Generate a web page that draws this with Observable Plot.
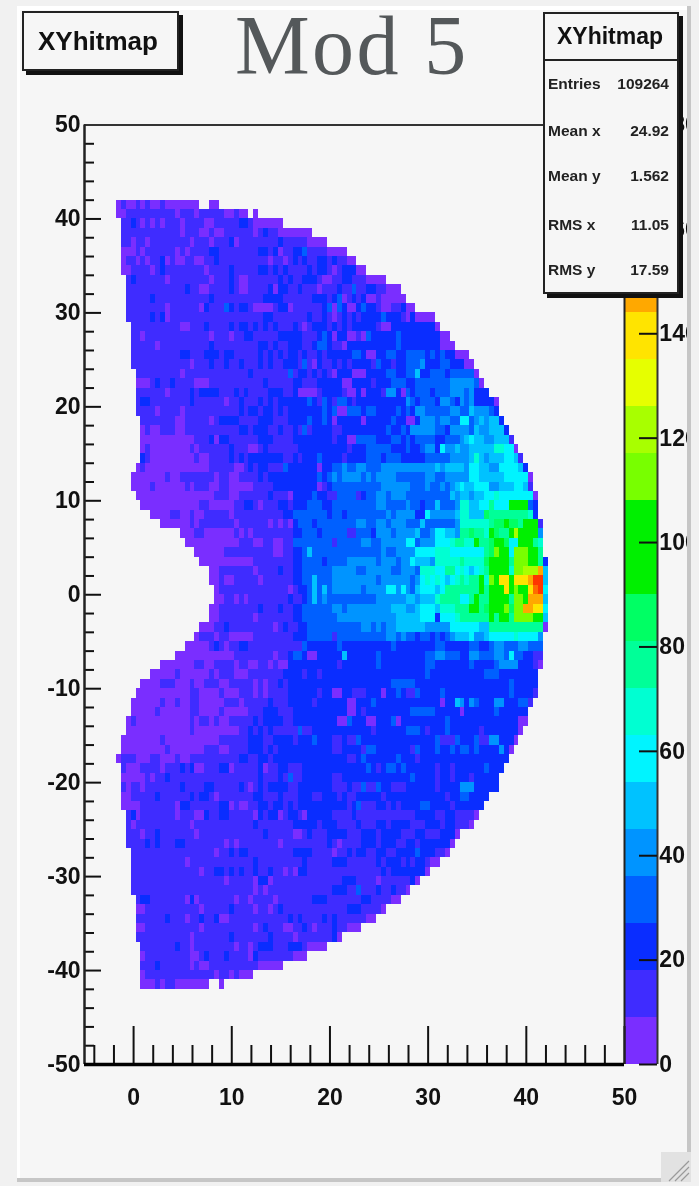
<!DOCTYPE html>
<html><head><meta charset="utf-8">
<script src="https://cdn.jsdelivr.net/npm/d3@7"></script>
<script src="https://cdn.jsdelivr.net/npm/@observablehq/plot@0.6"></script>
<style>
html,body{margin:0;padding:0;background:#f1f1f1;width:699px;height:1186px;overflow:hidden}
#panel{position:absolute;left:17px;top:6px;width:670px;height:1172px;background:#f6f6f6;border-left:3px solid #fff;border-top:4px solid #fff;box-sizing:border-box}
#chart{position:absolute;left:0;top:0}
#chart svg{filter:blur(.55px);background:transparent;display:block}
.mask{position:absolute}
.box{position:absolute;background:#f6f6f6;border:2px solid #222;box-sizing:border-box;box-shadow:4px 4px 0 #111;font-family:"Liberation Sans",Arial,sans-serif;font-weight:bold;color:#111;filter:blur(.4px)}
#title{position:absolute;left:235px;top:-3px;font:84px "Liberation Serif",serif;color:#54585a;letter-spacing:2.4px;white-space:nowrap}
.stat{position:absolute;left:3px;right:8px;display:flex;justify-content:space-between;font-size:15.5px;line-height:16px;color:#222}
</style></head><body>
<div id="panel"></div>
<div id="chart"></div>
<div class="mask" style="left:687px;top:6px;width:12px;height:1180px;background:#f1f1f1"></div>
<div class="mask" style="left:687px;top:6px;width:4px;height:1176px;background:#c6c6c6"></div>
<div class="mask" style="left:17px;top:1178px;width:674px;height:4px;background:#c6c6c6"></div>
<svg class="mask" style="left:661px;top:1152px" width="30" height="30"><rect width="30" height="30" fill="#e2e2e2"/><path d="M8 29L28 9M14 29L28 15M20 29L28 21" stroke="#9a9a9a" stroke-width="1.2"/></svg>
<div id="title">Mod 5</div>
<div class="box" style="left:22px;top:11px;width:157px;height:60px;font-size:26px;line-height:56px;padding-right:5px;text-align:center">XYhitmap</div>
<div class="box" style="left:543px;top:12px;width:136px;height:282px">
  <div style="height:45px;border-bottom:2px solid #222;font-size:23px;line-height:45px;padding-right:2px;text-align:center">XYhitmap</div>
  <div class="stat" style="top:62px"><span>Entries</span><span>109264</span></div>
  <div class="stat" style="top:109px"><span>Mean x</span><span>24.92</span></div>
  <div class="stat" style="top:154px"><span>Mean y</span><span>1.562</span></div>
  <div class="stat" style="top:203px"><span>RMS x</span><span>11.05</span></div>
  <div class="stat" style="top:248px"><span>RMS y</span><span>17.59</span></div>
</div>
<script>
// Histogram: one string per y bin from y=42 downwards, one character per x bin
// starting at x=-1.75. Characters are colour-band indices (base 36), "." = empty.
const hitRows = [
"0100101001 0000000..0 0",
"0011111111 1101110111 1100100.0.",
".112101010 1110111100 1111122100 0000",
".111111111 1110111001 0011111101 211000000 0",
".110110111 1111101110 1112011111 1112111110 000",
".000101111 1101011112 2111111112 2120112231 1110000",
".011010112 0100110011 2111111111 1011012121 122121100.",
".001111012 1111111101 1112111112 2121211112 1221012220 0",
"..12111111 0111111110 1112100111 1112121122 2100112211 10000",
"..11111111 1111211001 1112100111 1202211211 1011121131 12211000",
"..11111211 1111111112 1111111111 2222111111 2221230121 200100000",
"..11111111 0111111021 1132122100 0012201111 1123032002 3221001120 0",
"..11111212 0111111111 1111111111 2211111112 1121012121 2222322210 20000",
"...1111111 1110011121 1112122121 2121112101 2221212122 2221002222 222220",
"...1101111 1111111110 1110112211 1112222211 1232022001 0322222322 22222200",
"...1111101 1111111112 1111111112 2121122211 2332110222 2222222322 222222000",
"...1111111 1112211122 2122111112 1212122121 1212222233 2002233223 3332323220 00",
"...1111111 1111101112 1121121112 1211222131 0211212122 2213221223 3342223322 200",
"....111111 1110111111 1111111211 1111131221 2121022200 0222233223 3522333233 3330",
"....000121 1211110001 1111111111 2111112211 1222220022 2212223332 2333333344 44430",
"....111111 0111121222 2111212111 1222112000 0122221002 0222144203 2333233344 434222",
"....122111 1111121111 1101121112 1212222223 2132133212 2222222224 3233324432 43422220",
"....111101 1110111111 1111121221 2212122222 2232300333 2332222323 2443333344 33544432",
".....11111 1100111110 1222211112 2211122223 2232022222 0222223220 0244434433 663454552",
".....01001 1100111111 1111122122 2112112131 2222112222 2222232232 4444433244 4435445552",
".....00000 0000001112 0221111112 2211112222 2222122003 3332223323 2333322333 4565544555 1",
".....01000 0000010111 1112111001 2111111222 2222222122 2333332223 2234426445 4455555776 60",
".....21000 0000001001 1112121222 2222112122 2322221222 2333233322 2223333344 4457545556 651",
"....010000 0000000001 1111001212 2111322222 2022334334 4333444444 4444454555 5466554466 6652",
"...0000000 1001111111 0110011112 1222222222 2323434444 3434444333 3334433444 4466555556 66660",
"...0000100 0000101110 0110000011 1122222222 2012333333 3333444444 3334334345 6556664455 56651",
"....000000 0000000000 1110011111 1211102222 3221133331 2334434443 3333333354 5545566766 666660",
".....00000 0000000110 0000112210 1112212223 3322333333 3334433334 3323353334 7755668666 aaaa32",
".......000 0110010011 1110111111 1111223333 3332332333 3333343444 4226444445 7755598888 888872",
".........0 0000010111 1111011111 1010102333 2333333334 4334434443 3353333334 777777899a 998aaa1",
".......... ...0001100 0000101011 1111112233 3233333113 3324443444 4533466554 889887a988 adaaaa4",
".......... ....000000 0000011100 1100113333 3333133333 4433444446 6344466678 877a889aa9 66aaa87",
".......... ......0000 0011111111 1100112235 3333333333 3333433444 4666677766 6666689caa 6cccaa8",
".......... .......000 0000000011 1111112233 3323333444 4443444344 6555477777 877779aaaa 8cccba82",
".......... .........0 0111111101 1112112233 3333444443 3444443344 4377766886 765678aaaa 7ccdddg5",
".......... .........0 0100111110 1111112233 5333444444 4443444444 3467676567 8788a7caff afffgii5",
".......... .......... 0111111111 1111101223 5353444444 3444466464 3566656888 8888a8aaaf acaafhi6",
".......... .......... 0011010111 1111121123 5343333333 3334444445 5455578888 668a88aaaa 8ccaggg5",
".......... .........0 0111111112 1112112233 3333443444 4444445554 4566657778 88aa89aaac 9ccggff6",
".......... .........0 0111111101 1111112233 3333344444 4444444555 5566626667 888888a8aa 8ccccaa5",
".......... .......000 1121111111 1101211223 3333333333 4434344555 5554444466 6666558888 88888880",
".......... ......0111 0110000011 1111112223 3333133333 3333344343 3233232345 5564456666 6766664",
".......... ....000001 2101122111 1111111132 2222232222 2222223222 2222233222 2233223443 3344333",
".......... ..00000000 0000111111 1101123320 0222225222 2223222222 2223344333 2244333443 6332211",
".........0 0000001100 1111011001 1010022222 2222212222 2223222222 2223322222 2232222344 4422210",
".......000 0010000001 0111000111 1111222212 2122222222 2222222222 2223222222 2222233322 222222",
".....00001 1100010011 1001111101 0112122222 2222222222 2222223333 3222222222 2222222222 322222",
"....000000 0000011000 0100011101 0111122222 2122002211 1222022321 1322223222 2222222222 322221",
"...0000001 0010011000 0011101111 1211122222 1222222002 2232222222 2222220225 4243222442 22331",
"...0000010 0000011000 0100000111 2221112222 2222222002 1222222222 3333322222 0222222322 2222",
"..01000000 0000010110 1001111121 2222112222 2222200322 2002223022 2222222322 2222222222 2200",
"..00000000 0000010000 0000011212 1211111311 2222222222 2212222223 3321222322 2222122222 220",
".000000001 0000000000 0111111222 1122221222 3222112113 2222222222 2222231113 2223114422 20",
".000000000 1000000011 1001111222 1212222222 2222112222 1332222222 1322232232 3323222242 0",
"0111000110 0010011111 1111122112 2122222222 2222222112 3222222322 2122222222 2222222222",
".100011110 1112120011 1220111112 0112211122 2222222222 2321233232 2222212212 222223222",
".000001011 2111111111 1111111112 1112131122 2222112222 2222222222 3222212212 22122222",
".101101111 1112111122 1111121012 1222211222 2222111211 3113221112 2222212222 44422222",
".001111121 1111121221 0111111122 1112111222 1122212112 2222122222 2222222122 332222",
".000011111 1102211111 1220100112 2122121222 2222222123 1112212122 2233222212 22222",
"..12011111 1101110021 1221111102 1220122102 2222111121 1111111111 1222211221 1110",
"..10111111 1111101111 1111111121 1111112222 2122211112 1112212222 1112221221 110",
"..11101121 1111110111 1111111111 2111110012 1112222111 2221222211 1221112220",
"..11112121 1122111111 1101011111 1110111111 1112101111 2221222112 212222220",
"...1111111 1111111111 0112122111 1111112222 1111011212 2112211222 23222110",
"...1111111 1111011111 1111111121 1111111121 1111222111 1112122212 122100",
"...1111111 1111111011 2212121121 1211010221 1111111111 1111212222 2220",
"...1111111 1111111111 1101111102 2011111111 1111112221 1110111111 20",
"...1111111 1111111111 1111111101 0111111111 1111222113 1112112110",
"....122111 1111020111 1111011011 1101111111 2221111111 22111100",
"....001111 1111111011 1112111101 1012111111 1111111222 11110",
"....111111 2111011211 2001111111 1111121211 1121211111 100",
"....001111 1111111011 1111111101 2111001121 0111211000",
"....111111 1111101111 1112111111 1211110111 111120",
".....11111 1121101111 1111011012 2211122210 000",
".....01111 1111100121 1121111021 111111000",
".....11121 1111101001 1111111110 0000",
".....01111 1111111111 01101000",
".....00010 110000000. .0"
];
const xStart = -1.75, xBin = 0.5, yTop = 42, yBin = 1;
const bandWidth = 9;
const bandColors = ["#7a2eff","#3f2cff","#0a2dff","#0060ff","#0094ff","#00c2ff","#00f4ff","#00ffd2","#00ff98","#00ff64","#00f000","#00f000","#78ff00","#a8ff00","#e6ff00","#ffe400","#ffa800","#ff6c00","#ff3600","#e60000"];
const bandLimits = bandColors.slice(1).map((_, i) => (i + 1) * bandWidth);
const xMajor = [0,10,20,30,40,50];
const xMinor = [-4,-2,2,4,6,8,12,14,16,18,22,24,26,28,32,34,36,38,42,44,46,48];
const yMajor = [-50,-40,-30,-20,-10,0,10,20,30,40,50];
const yMinor = d3.range(-48,50,2).filter(v => v % 10 !== 0);
const barTicks = [0,20,40,60,80,100,120,140,160,180];

const cells = hitRows.flatMap((row, r) =>
  [...row.replace(/ /g, "")].flatMap((c, n) => c === "." ? [] : [{
    x1: xStart + n * xBin, x2: xStart + (n + 1) * xBin,
    y1: yTop - (r + 1) * yBin, y2: yTop - r * yBin,
    count: (parseInt(c, 36) + 0.5) * bandWidth
  }]));
const toY = z => -50 + z / 180 * 100;
const bands = bandColors.map((_, i) => ({y1: toY(i * bandWidth), y2: toY((i + 1) * bandWidth), count: (i + .5) * bandWidth}));
const font = {fontFamily: "Liberation Sans", fontWeight: "bold", fontSize: 23};
const noLabel = () => "";

const plot = Plot.plot({
  width: 699, height: 1186,
  marginLeft: 84, marginRight: 75, marginTop: 124.5, marginBottom: 122,
  style: {background: "transparent", color: "#111", ...font},
  x: {domain: [-5, 50], axis: null},
  y: {domain: [-50, 50], axis: null},
  color: {type: "threshold", domain: bandLimits, range: bandColors},
  marks: [
    Plot.rect(cells, {x1: "x1", x2: "x2", y1: "y1", y2: "y2", fill: "count", shapeRendering: "crispEdges"}),
    Plot.rect(bands, {x1: 50, x2: 53.36, y1: "y1", y2: "y2", fill: "count", shapeRendering: "crispEdges"}),
    Plot.axisX({ticks: xMajor, tickSize: -38, tickPadding: 62, tickFormat: d => String(d), strokeWidth: 2, stroke: "#111", fill: "#111", marginBottom: 0, ...font}),
    Plot.axisX({ticks: xMinor, tickSize: -19, tickFormat: noLabel, strokeWidth: 2, stroke: "#111", marginBottom: 0}),
    Plot.axisY({ticks: yMajor, tickSize: -17, tickPadding: 21, tickFormat: d => String(d), strokeWidth: 2, stroke: "#111", fill: "#111", marginLeft: 0, ...font}),
    Plot.axisY({ticks: yMinor, tickSize: -10, tickFormat: noLabel, strokeWidth: 2, stroke: "#111", marginLeft: 0}),
    Plot.ruleY([50], {x1: -5, x2: 50, stroke: "#333", strokeWidth: 2}),
    Plot.ruleX([-5], {y1: -50, y2: 50, stroke: "#222", strokeWidth: 2.5}),
    Plot.ruleX([50], {y1: -50, y2: 50, stroke: "#222", strokeWidth: 2}),
    Plot.ruleX([53.36], {y1: -50, y2: 50, stroke: "#333", strokeWidth: 2}),
    Plot.ruleY([-50], {x1: -5, x2: 50, stroke: "#000", strokeWidth: 3.5}),
    Plot.ruleY(barTicks, {y: toY, x1: 51.53, x2: 53.36, stroke: "#111", strokeWidth: 2}),
    Plot.text(barTicks, {y: toY, x: 53.55, text: d => String(d), textAnchor: "start", fill: "#111", ...font})
  ]
});
document.getElementById("chart").append(plot);
</script>
</body></html>
